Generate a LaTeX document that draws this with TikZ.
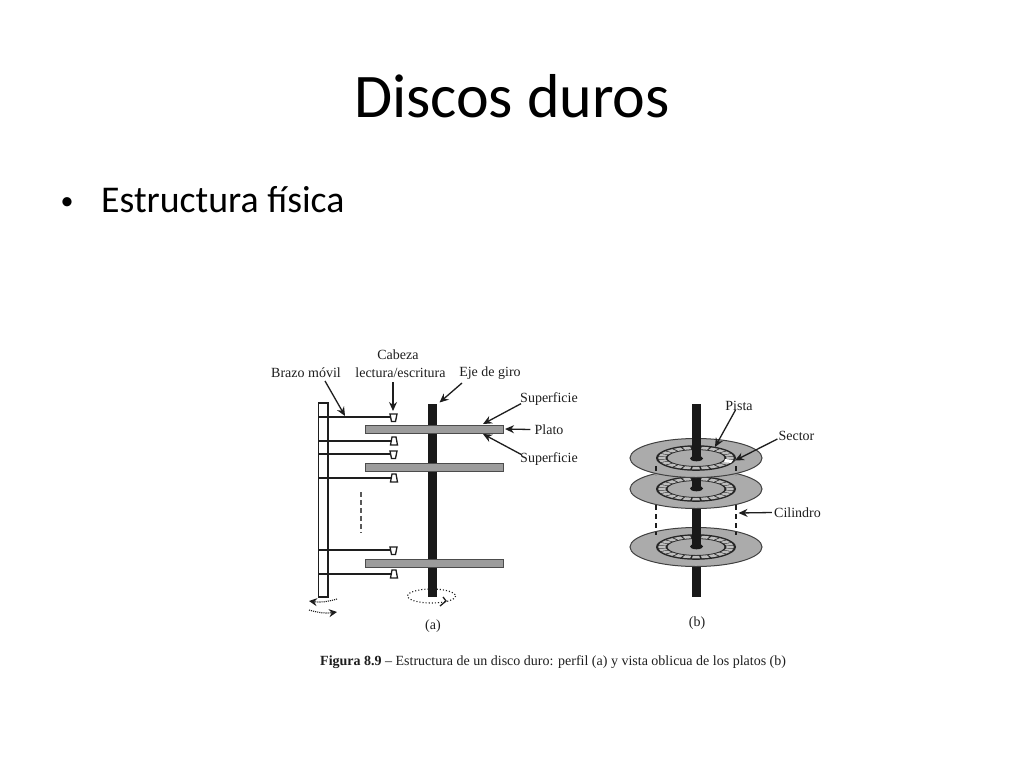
\documentclass[tikz,border=0pt]{standalone}
\usepackage{fontspec}
\setmainfont{Carlito}
\newfontfamily\figfont{Liberation Serif}
\usetikzlibrary{arrows.meta}
\definecolor{ink}{HTML}{1E1E1E}
\definecolor{platgray}{HTML}{9C9C9C}
\definecolor{discgray}{HTML}{ABABAB}
\definecolor{cellgray}{HTML}{BEBEBE}
\newcommand{\ringcells}[1]{%
  \foreach \t in {0,15,...,345}{%
    \fill[cellgray] ({696+37.8*cos(\t-6)},{#1+11.4*sin(\t-6)}) -- ({696+37.8*cos(\t+6)},{#1+11.4*sin(\t+6)})
      -- ({696+30.5*cos(\t+6)},{#1+8.8*sin(\t+6)}) -- ({696+30.5*cos(\t-6)},{#1+8.8*sin(\t-6)}) -- cycle;
  }}
\newcommand{\platterdisc}[1]{%
  \draw[discline] (696,#1) ellipse [x radius=66, y radius=19.5];
  \fill[black!85,even odd rule] (696,#1) ellipse [x radius=40, y radius=12.8] (696,#1) ellipse [x radius=28.5, y radius=8];
  \ringcells{#1}
}
\tikzset{
  x=1pt,y=-1pt,
  figlabel/.style={font=\figfont\fontsize{14}{16}\selectfont,text=ink,inner sep=0pt},
  leader/.style={draw=ink,line width=1.3pt,-{Stealth[length=9pt,width=8pt]}},
  armline/.style={draw=ink,line width=2pt},
  platter/.style={draw=black!70,fill=platgray,line width=1pt},
  headshape/.style={draw=ink,fill=white,line width=1.3pt},
  shaftbar/.style={fill=black!90},
  discline/.style={draw=black!75,fill=discgray,line width=1pt},
  cyl/.style={draw=ink,line width=1.2pt,dash pattern=on 5pt off 4pt},
  shafthub/.style={fill=black!90},
}
\begin{document}
\begin{tikzpicture}
\useasboundingbox (0,0) rectangle (1024,768);
\fill[white] (0,0) rectangle (1024,768);

% slide text
\node[anchor=base,inner sep=0pt,font=\fontsize{62}{64}\selectfont,text=black] (title) at (512,117) {Discos duros};
\node[anchor=base,inner sep=0pt,font=\fontsize{26}{30}\selectfont,text=black] (bullet) at (67,209) {•};
\node[anchor=base west,inner sep=0pt,font=\fontsize{37.8}{40}\selectfont,text=black] (body) at (101,212) {Estructura física};

% (a) profile
\draw[draw=ink,fill=white,line width=1.2pt] (318.5,403) rectangle (328,597);
\fill[shaftbar] (427.5,404) rectangle (436.5,597);
\foreach \yy in {429,467,563.5}{\draw[platter] (365.5,\yy-4) rectangle (503,\yy+4);}
% arms
\foreach \yy in {417,454,550}{
  \draw[armline] (318.5,\yy) -- (391,\yy);
  \draw[headshape] (390,\yy-3) -- (397,\yy-3) -- (395.5,\yy+4.5) -- (391.5,\yy+4.5) -- cycle;
}
\foreach \yy in {441,478,574}{
  \draw[armline] (318.5,\yy) -- (391,\yy);
  \draw[headshape] (390.5,\yy+4) -- (397.5,\yy+4) -- (396,\yy-4) -- (392,\yy-4) -- cycle;
}
\draw[draw=black!65,line width=1.3pt,dash pattern=on 4.5pt off 3.5pt] (361,492) -- (361,533);
% rotation marks
\draw[draw=ink,line width=1.1pt,dotted] (431.5,596) ellipse [x radius=24, y radius=7];
\draw[draw=ink,line width=1.3pt] (443,597) -- (446,601) -- (440,606);
\draw[draw=ink,line width=1.1pt,densely dotted,-{Stealth[length=8pt,width=8pt]}] (337,599) to[bend left=12] (309,601);
\draw[draw=ink,line width=1.1pt,densely dotted,-{Stealth[length=8pt,width=8pt]}] (309,610) to[bend right=12] (337,612);

% labels (a)
\node[figlabel] (brazo) at (306,372.5) {Brazo móvil};
\node[figlabel] (cabeza) at (398,355) {Cabeza};
\node[figlabel] (lectura) at (400.5,372.5) {lectura/escritura};
\node[figlabel] (eje) at (490,373) {Eje de giro};
\node[figlabel] (sup1) at (549,399) {Superficie};
\node[figlabel] (plato) at (549,429.5) {Plato};
\node[figlabel] (sup2) at (549,459) {Superficie};
\node[figlabel] (labela) at (433,626) {(a)};

\coordinate (tarm) at (345,416);
\coordinate (thead) at (393,411);
\coordinate (teje) at (439.5,402.5);
\coordinate (tsup1) at (483,424);
\coordinate (tplato) at (505,429);
\coordinate (tsup2) at (483,434);
\draw[leader] (325,381) -- (tarm);
\draw[leader] (393,382) -- (thead);
\draw[leader] (462,383) -- (teje);
\draw[leader] (sup1.south west) ++(1,-2) -- (tsup1);
\draw[leader] (plato.west) ++(-4,0) -- (tplato);
\draw[leader] (sup2.north west) ++(1,2) -- (tsup2);

% (b) oblique
\fill[shaftbar] (692,403.5) rectangle (701,597);
\platterdisc{547}
\fill[shaftbar] (692,403.5) rectangle (701,546);
\fill[shafthub] (696.5,546.5) ellipse [x radius=6.5, y radius=2.8];
\platterdisc{489}
\fill[shaftbar] (692,403.5) rectangle (701,488);
\fill[shafthub] (696.5,488.5) ellipse [x radius=6.5, y radius=2.8];
\platterdisc{458}
\fill[shaftbar] (692,403.5) rectangle (701,458);
\fill[shafthub] (696.5,458.5) ellipse [x radius=6.5, y radius=2.8];
\fill[white] (725,459) -- (733,460) -- (731,463) -- (724,462) -- cycle;
\draw[cyl] (656,466) -- (656,475);
\draw[cyl] (736,466) -- (736,475);
\draw[cyl] (656,505) -- (656,535);
\draw[cyl] (736,505) -- (736,535);

% labels (b)
\node[figlabel] (pista) at (739,405.5) {Pista};
\node[figlabel] (sector) at (796.5,436) {Sector};
\node[figlabel] (cilindro) at (797.5,512.5) {Cilindro};
\node[figlabel] (labelb) at (697,623) {(b)};
\coordinate (tpista) at (715,447);
\coordinate (tsector) at (735,460.5);
\coordinate (tcil) at (738.5,513);
\draw[leader] (735.5,410) -- (tpista);
\draw[leader] (sector.west) ++(-1,3) -- (tsector);
\draw[leader] (cilindro.west) ++(-2,0) -- (tcil);

% caption
\node[anchor=base west,inner sep=0pt,font=\figfont\fontsize{14}{16}\selectfont,text=ink] (caption) at (320,665) {\textbf{Figura 8.9} – Estructura de un disco duro: perfil (a) y vista oblicua de los platos (b)};
\end{tikzpicture}
\end{document}
